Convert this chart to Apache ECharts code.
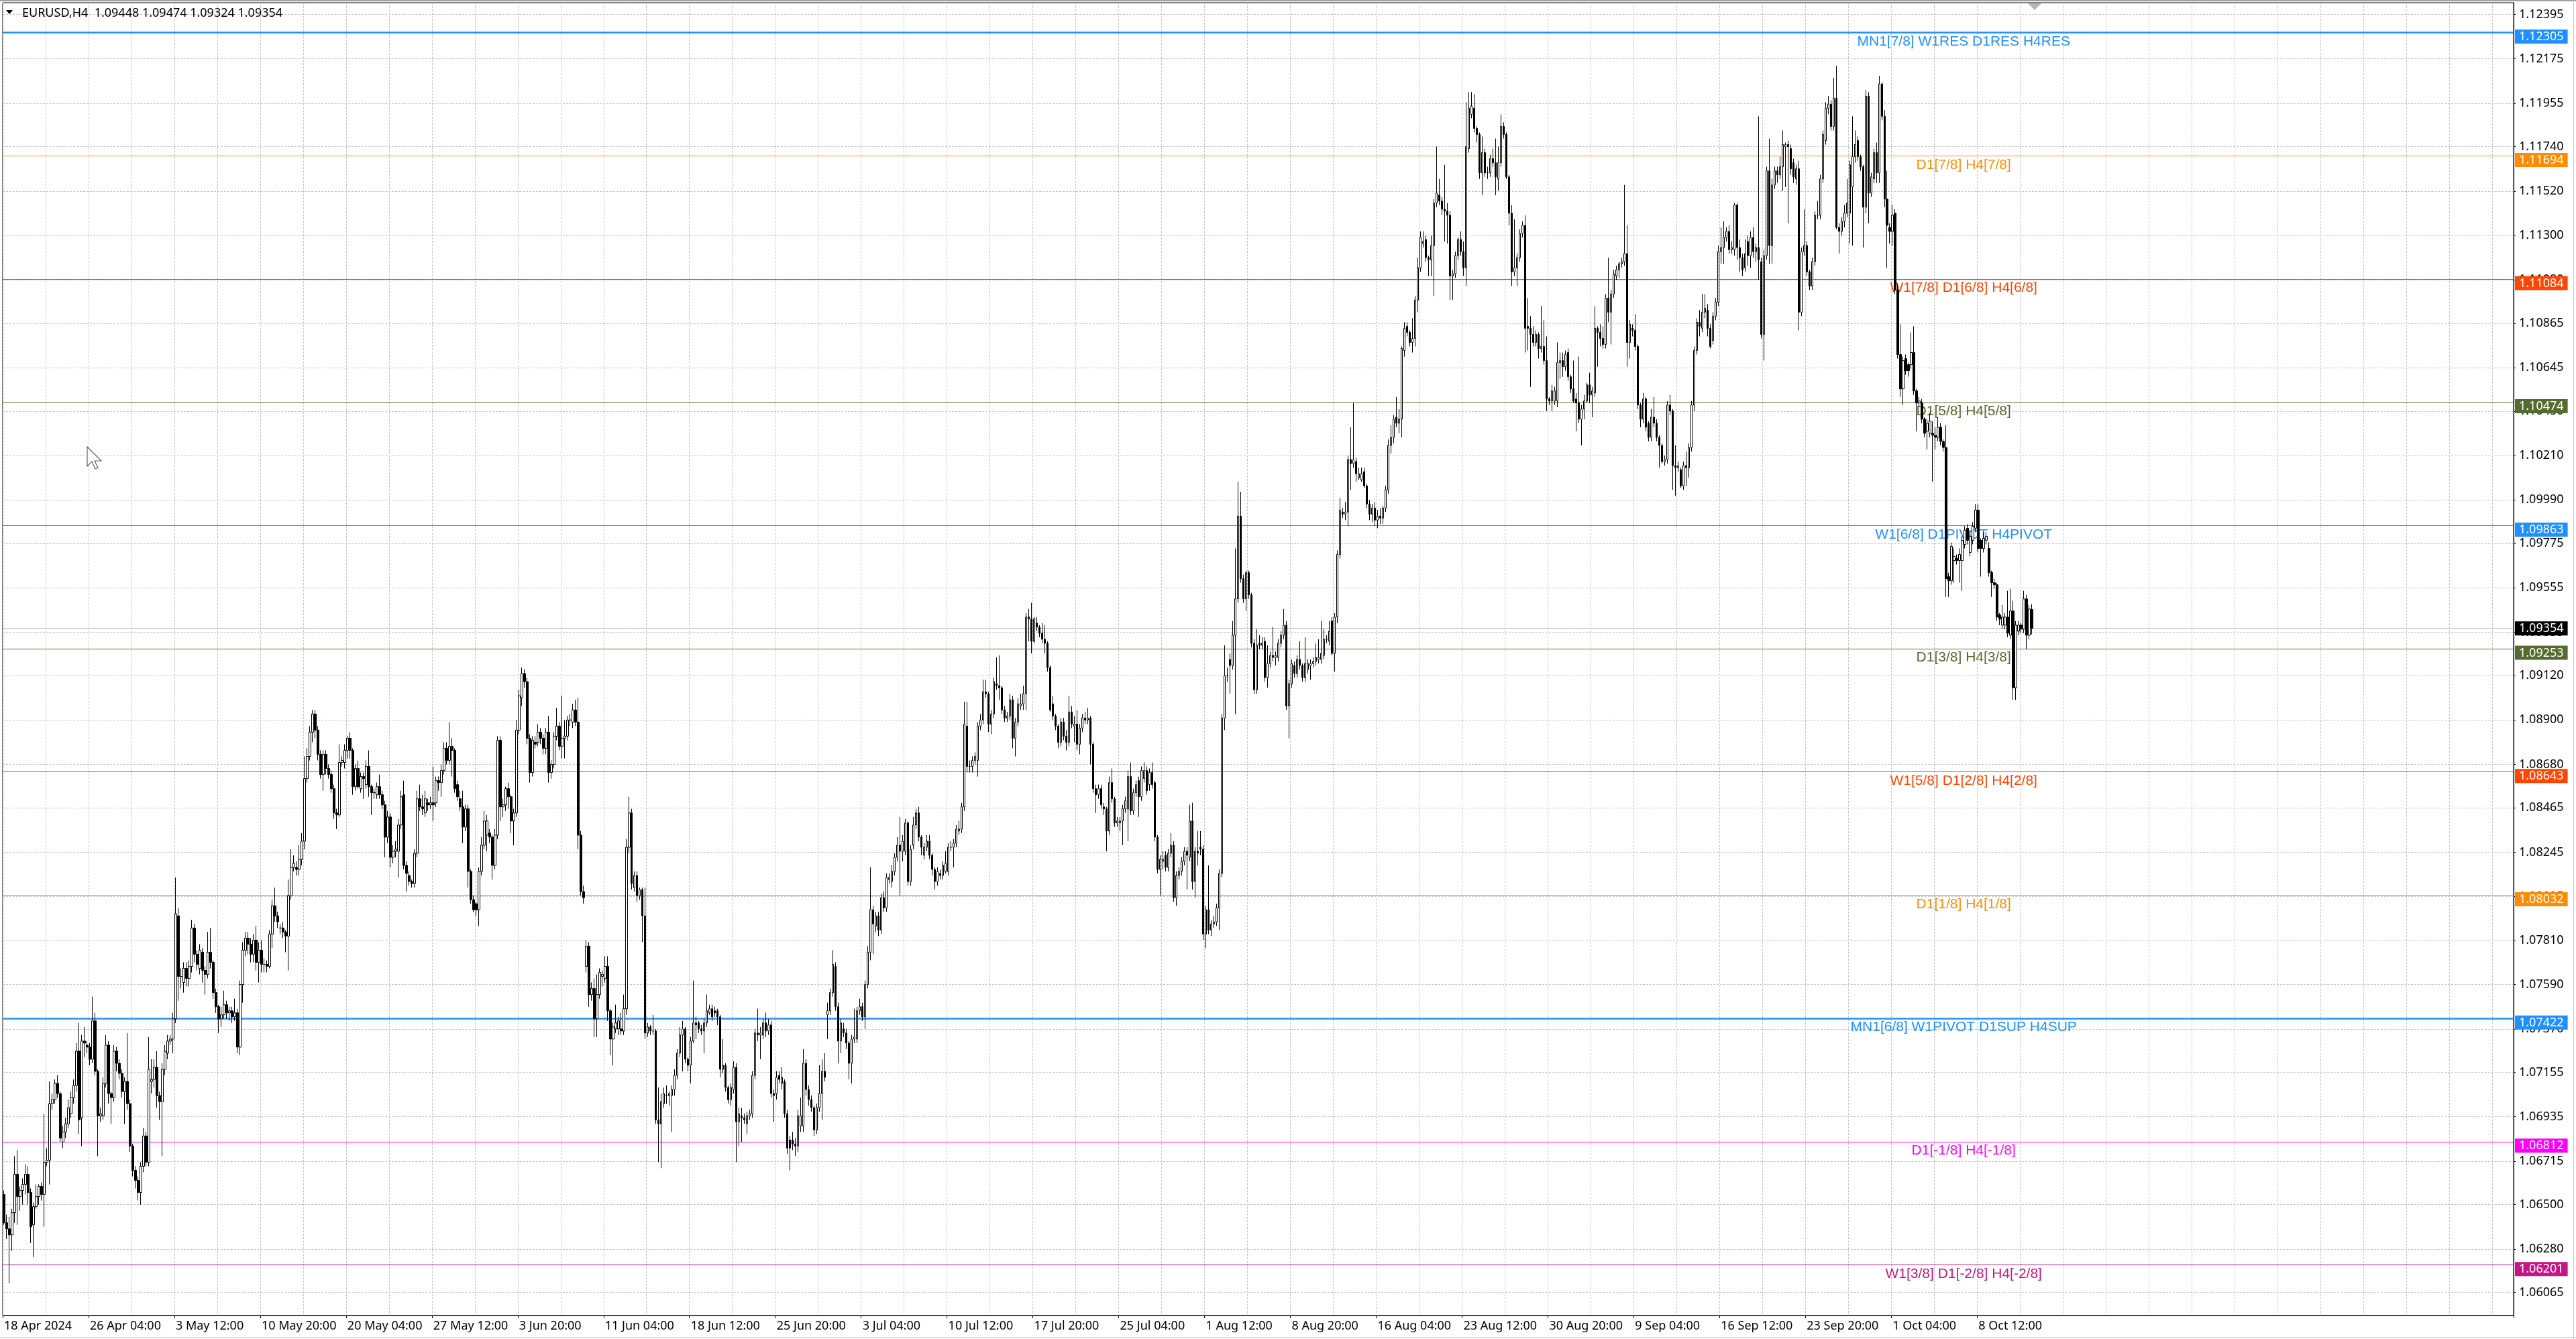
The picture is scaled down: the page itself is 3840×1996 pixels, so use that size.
<!DOCTYPE html>
<html>
<head>
<meta charset="utf-8">
<script src="https://cdn.jsdelivr.net/npm/echarts@6/dist/echarts.min.js"></script>
<style>
html,body{margin:0;padding:0;background:#fff;}
#chart{width:3840px;height:1996px;}
</style>
</head>
<body>
<div id="chart"></div>
<script>
// ---------- header ----------
const headerText = 'EURUSD,H4  1.09448 1.09474 1.09324 1.09354';
const lastPrice = 1.09354;

// ---------- axis ticks ----------
const yTicks = [1.12395,1.12175,1.11955,1.11740,1.11520,1.11300,1.11080,1.10865,1.10645,1.10430,
  1.10210,1.09990,1.09775,1.09555,1.09335,1.09120,1.08900,1.08680,1.08465,1.08245,
  1.08025,1.07810,1.07590,1.07370,1.07155,1.06935,1.06715,1.06500,1.06280,1.06065];
const xLabels = ['18 Apr 2024','26 Apr 04:00','3 May 12:00','10 May 20:00','20 May 04:00','27 May 12:00',
  '3 Jun 20:00','11 Jun 04:00','18 Jun 12:00','25 Jun 20:00','3 Jul 04:00','10 Jul 12:00',
  '17 Jul 20:00','25 Jul 04:00','1 Aug 12:00','8 Aug 20:00','16 Aug 04:00','23 Aug 12:00',
  '30 Aug 20:00','9 Sep 04:00','16 Sep 12:00','23 Sep 20:00','1 Oct 04:00','8 Oct 12:00'];

// ---------- Murrey levels ----------
const levelValues = [1.12305,1.11694,1.11084,1.10474,1.09863,1.09253,1.08643,1.08032,1.07422,1.06812,1.06201];
const levelNames = ['MN1[7/8] W1RES D1RES H4RES','D1[7/8] H4[7/8]','W1[7/8] D1[6/8] H4[6/8]','D1[5/8] H4[5/8]',
  'W1[6/8] D1PIVOT H4PIVOT','D1[3/8] H4[3/8]','W1[5/8] D1[2/8] H4[2/8]','D1[1/8] H4[1/8]',
  'MN1[6/8] W1PIVOT D1SUP H4SUP','D1[-1/8] H4[-1/8]','W1[3/8] D1[-2/8] H4[-2/8]'];
const levelColors = ['#1E90FF','#FF8C00','#FF4500','#556B2F','#1E90FF','#556B2F','#FF4500','#FF8C00','#1E90FF','#FF00FF','#C71585'];
const levelWidths = [2.5,1.2,1.2,1.2,1.2,1.2,1.2,1.2,2.5,1.2,1.2];

// ---------- H4 candles, [open, high, low, close] in pips above 1.0000 ----------
const barsPart1 = [
[655,657,640,641],[641,645,633,638],[638,644,611,635],[635,648,627,646],[646,674,641,665],[665,677,640,654],
[654,659,647,657],[657,663,650,660],[660,670,655,665],[665,669,650,656],[656,658,631,639],[640,651,624,649],
[649,660,648,654],[654,660,650,659],[659,661,652,655],[655,695,639,671],[671,678,669,672],[672,711,660,700],
[700,705,697,702],[702,712,700,710],[710,714,703,705],[705,706,681,683],[681,689,678,686],[686,693,683,690],
[690,702,688,698],[695,706,693,703],[703,712,700,709],[709,730,706,726],[726,740,685,692],[693,734,679,731],
[731,738,723,730],[729,731,725,728],[728,730,719,722],[722,753,720,741],[741,745,714,716],[716,717,674,694],
[694,698,691,695],[694,713,692,710],[710,734,708,729],[729,731,700,705],[705,706,690,703],[703,729,701,726],
[726,728,716,720],[720,722,712,715],[715,717,703,706],[706,713,690,711],[711,735,697,700],[700,702,676,679],
[679,680,664,667],[667,669,658,662],[662,664,652,656],[656,671,650,669],[669,688,666,684],[684,686,669,671],
[671,733,669,717],[711,722,705,712],[712,722,708,718],[718,726,698,704],[704,706,692,701],[701,720,674,717],
[717,729,714,726],[725,734,722,731],[731,734,729,732],[732,745,725,742],[742,812,740,794],[793,797,751,763],
[763,767,757,763],[760,770,755,767],[767,770,758,762],[762,771,758,768],[768,791,765,787],[787,789,770,774],
[774,776,766,769],[767,779,764,776],[775,777,760,766],[766,768,754,764],[764,785,762,775],[775,787,767,770],
[770,771,752,755],[755,757,745,748],[748,749,735,742],[742,748,738,744],[744,756,742,749],[749,751,742,745],
[745,748,741,746],[746,748,740,743],[743,752,741,745],[745,747,725,728],[728,761,724,759],[759,780,750,776],
[776,785,773,782],[782,785,774,779],[779,782,770,774],[774,784,770,781],[781,788,766,770],[770,780,760,776],
[776,781,765,769],[769,772,765,769],[769,771,765,768],[768,786,767,784],[784,801,777,798],[798,807,790,793],
[793,795,787,790],[787,789,784,787],[787,790,782,785],[785,786,775,783],[783,811,766,803],[803,826,801,817],
[817,823,815,819],[817,820,813,816],[816,828,813,821],[821,834,818,830],[830,872,826,861],[861,876,859,872],
[872,887,870,884],[884,895,879,893],[893,895,881,885],[885,887,870,873],[873,875,861,863],[863,875,855,873],
[873,875,863,866],[866,868,861,863],[863,865,854,856],[856,858,841,844],[844,846,836,843],[843,878,842,869],
[869,872,867,870]
];
const barsPart2 = [
[869,878,866,875],[875,882,871,881],[881,884,871,875],[875,876,853,857],[857,868,855,866],[866,870,856,857],
[856,864,854,862],[862,864,851,861],[858,870,856,867],[867,875,852,857],[857,858,843,854],[854,856,851,854],
[853,859,851,857],[857,863,851,853],[853,855,846,848],[848,850,822,832],[832,845,829,842],[842,844,817,822],
[822,828,819,825],[825,830,822,826],[825,841,812,838],[838,855,836,852],[853,860,816,818],[818,820,805,814],
[813,815,808,810],[810,811,807,809],[809,826,807,824],[824,855,822,851],[851,858,845,847],[847,853,843,846],
[844,855,842,851],[849,851,845,848],[848,852,846,849],[849,867,840,848],[849,862,847,860],[860,862,855,859],
[859,868,852,865],[865,879,863,876],[876,879,868,870],[870,889,868,877],[877,881,862,875],[875,876,854,856],
[858,860,850,852],[851,855,845,847],[847,855,829,837],[837,848,835,846],[846,848,807,815],[815,816,799,801],
[801,803,795,796],[799,800,793,796],[796,817,788,815],[815,832,813,828],[828,845,826,840],[833,843,825,840],
[834,836,829,832],[832,833,811,818],[818,836,816,833],[833,882,831,880],[880,882,840,847],[847,851,842,848],
[848,857,845,856],[856,859,846,852],[852,853,834,840],[840,846,828,844],[844,890,842,885],[885,905,883,902],
[901,916,897,913],[913,915,906,909],[909,911,878,881],[881,883,859,864],[864,882,862,880],[879,882,876,878],
[879,888,877,884],[884,886,878,881],[881,883,873,876],[876,886,873,884],[884,892,859,864],[864,870,861,868],
[868,884,866,882],[882,896,880,887],[887,889,875,877],[877,902,871,881],[881,890,871,882],[882,892,880,890],
[890,893,887,890],[889,898,886,895],[895,900,887,889],[889,901,826,833],[833,835,803,805],[805,808,799,802],
[768,781,765,778],[778,780,748,754],[754,760,751,757],[757,762,733,742],[742,764,733,754],[754,767,752,765],
[763,766,758,764],[762,773,760,768],[768,773,741,746],[746,747,724,732],[732,740,719,738],[737,749,735,740],
[737,743,734,741],[737,745,734,736],[736,754,734,747],[747,831,744,827],[827,852,824,844],[844,846,806,809],
[807,815,805,813],[813,815,800,803],[803,807,801,806],[806,807,780,793],[793,807,732,735],[735,740,733,738],
[738,739,734,736],[736,744,734,736],[736,737,690,692],[692,708,671,690],[690,705,668,701],[700,708,698,705],
[704,709,700,704],[704,706,699,705],[704,709,686,707],[707,717,704,714],[714,727,712,725],[725,738,723,734]
];
const barsPart3 = [
[734,741,716,737],[737,738,720,722],[722,723,716,719],[719,733,710,731],[731,761,730,740],[740,743,732,739],
[740,741,735,737],[737,739,734,736],[736,742,725,740],[740,754,738,746],[745,749,744,747],[747,749,741,743],
[746,748,743,745],[746,747,739,743],[743,744,713,717],[717,732,715,719],[719,720,706,708],[708,709,700,702],
[702,710,699,708],[707,721,705,718],[718,720,671,691],[691,698,679,695],[694,698,681,693],[693,695,690,692],
[690,696,685,694],[694,697,692,695],[695,716,693,714],[714,737,712,735],[735,747,731,734],[734,738,722,735],
[734,742,732,740],[740,745,733,736],[736,742,734,739],[739,741,703,705],[705,707,691,704],[705,716,702,713],
[714,716,710,712],[710,718,707,713],[711,712,693,695],[695,697,675,678],[682,684,667,678],[682,686,677,680],
[680,683,674,679],[679,697,676,694],[689,703,686,694],[689,727,686,720],[720,722,704,707],[707,709,699,702],
[702,704,696,698],[698,699,684,687],[687,700,685,698],[698,719,696,705],[705,722,692,716],[716,725,711,713],
[744,750,732,746],[746,757,744,755],[755,776,753,769],[768,770,746,748],[748,750,720,731],[731,742,725,740],
[737,740,733,735],[735,737,727,730],[730,731,712,720],[720,734,710,732],[732,747,730,733],[732,748,730,746],
[746,752,744,748],[748,750,741,743],[743,761,737,759],[759,778,757,775],[775,817,771,796],[796,798,774,789],
[788,795,785,793],[793,795,783,786],[786,804,784,802],[802,805,795,797],[797,814,795,812],[811,814,809,812],
[810,818,807,815],[815,824,813,822],[822,832,820,828],[828,842,803,825],[825,833,820,830],[825,841,823,839],
[839,840,808,810],[810,828,808,826],[828,842,826,838],[838,846,836,844],[844,847,830,832],[832,833,823,827],
[823,829,821,827],[827,833,825,830],[830,833,821,823],[823,824,813,816],[816,817,806,810],[810,817,808,815],
[814,816,811,813],[813,820,811,818],[815,825,814,819],[815,829,813,827],[827,830,825,827],[827,831,817,829],
[829,838,827,836],[835,840,833,836],[836,849,834,847],[847,899,845,888],[887,899,864,867],[867,870,864,867],
[867,872,864,870],[870,874,868,872],[870,889,862,887],[887,893,885,890],[890,910,888,904],[904,910,901,903],
[903,904,884,888],[888,895,883,893],[893,911,891,909],[908,921,905,907],[907,922,900,906],[906,907,893,895],
[895,897,889,891],[891,894,889,892],[892,903,890,900],[900,902,876,881],[881,891,872,889],[889,901,887,898]
];
const barsPart4 = [
[897,903,895,898],[898,907,895,903],[903,943,895,941],[941,945,929,940],[940,948,923,929],[929,941,928,940],
[938,941,934,936],[936,937,931,933],[933,938,928,930],[930,937,923,928],[928,929,914,916],[916,917,894,895],
[898,902,890,892],[892,893,885,887],[887,888,876,879],[879,891,877,889],[889,891,880,882],[882,885,875,879],
[879,902,877,894],[894,897,886,888],[887,892,879,888],[888,895,875,878],[878,888,873,886],[886,893,884,891],
[891,894,888,890],[890,896,888,891],[891,892,868,878],[878,879,854,856],[856,858,844,853],[853,858,851,856],
[856,858,846,848],[847,849,843,846],[846,847,825,835],[835,862,833,859],[859,866,849,851],[851,852,837,839],
[839,842,837,840],[839,842,835,840],[840,848,828,846],[846,852,844,850],[846,865,830,862],[862,869,843,845],
[845,856,843,854],[854,860,852,858],[860,862,842,852],[852,867,850,865],[861,869,859,865],[865,867,853,855],
[858,866,855,864],[864,869,856,858],[859,860,830,832],[832,833,814,816],[816,823,803,821],[820,825,816,821],
[823,825,815,817],[817,826,815,824],[824,834,822,828],[828,830,800,802],[802,815,798,813],[813,817,811,815],
[815,822,813,820],[820,827,818,825],[825,827,806,823],[822,848,820,840],[840,849,806,810],[810,827,802,825],
[825,835,818,824],[827,835,823,826],[826,828,781,784],[784,798,777,796],[796,818,784,786],[786,791,783,789],
[789,793,787,790],[790,799,788,797],[797,816,786,814],[814,893,812,891],[891,927,885,912],[912,916,909,912],
[920,923,903,917],[917,939,915,932],[932,975,893,950],[950,1008,948,991],[991,1003,958,960],[960,962,948,950],
[950,964,944,963],[963,964,950,952],[952,953,926,928],[928,930,903,905],[905,935,903,927],[928,932,925,927],
[927,931,925,928],[929,931,909,911],[911,927,906,918],[918,924,916,922],[922,936,919,921],[921,924,917,922],
[921,930,919,928],[928,934,926,932],[932,945,930,937],[937,939,895,897],[897,910,881,908],[908,920,906,918],
[917,919,911,913],[913,922,911,920],[920,929,915,917],[917,918,909,911],[911,931,909,918],[915,920,913,918],
[917,920,910,918],[918,921,916,919],[919,928,917,921],[920,930,918,921],[920,939,918,923],[922,935,920,930],
[930,932,928,930],[929,939,927,934],[939,941,922,923],[923,943,914,941],[941,974,938,972],[972,1000,970,994],
[993,995,990,992],[992,998,989,993],[993,1021,986,1019],[1019,1035,1004,1017],[1017,1047,1015,1019],[1018,1020,1008,1012]
];
const barsPart5 = [
[1010,1015,1009,1012],[1009,1015,1008,1012],[1013,1015,1005,1006],[1006,1007,995,997],[997,999,989,992],[992,997,988,995],
[995,998,986,989],[989,994,985,991],[991,995,987,990],[990,996,987,995],[995,1006,993,1004],[1004,1029,1002,1026],
[1026,1036,1022,1030],[1030,1041,1027,1039],[1040,1050,1035,1037],[1037,1044,1032,1039],[1039,1075,1030,1074],[1073,1087,1070,1084],
[1085,1087,1080,1082],[1082,1083,1075,1077],[1077,1089,1072,1079],[1079,1100,1075,1098],[1098,1119,1092,1114],[1114,1132,1112,1129],
[1126,1132,1124,1127],[1128,1130,1117,1119],[1119,1120,1110,1118],[1118,1130,1110,1125],[1125,1148,1100,1146],[1146,1174,1144,1151],
[1150,1158,1145,1147],[1147,1149,1140,1143],[1143,1165,1127,1142],[1142,1146,1126,1140],[1140,1142,1098,1110],[1110,1113,1098,1111],
[1111,1122,1109,1120],[1120,1129,1118,1128],[1128,1132,1120,1122],[1122,1127,1110,1114],[1114,1196,1105,1174],[1173,1201,1171,1193],
[1190,1201,1188,1194],[1193,1200,1181,1183],[1183,1184,1176,1180],[1180,1181,1158,1161],[1161,1179,1150,1171],[1171,1173,1159,1161],
[1161,1164,1158,1161],[1161,1170,1159,1168],[1168,1173,1164,1166],[1166,1178,1150,1159],[1158,1174,1152,1166],[1166,1190,1164,1184],
[1184,1186,1178,1180],[1180,1181,1158,1159],[1159,1160,1135,1141],[1141,1145,1105,1112],[1112,1138,1110,1114],[1114,1121,1105,1119],
[1119,1133,1117,1131],[1131,1137,1129,1135],[1135,1140,1072,1084],[1085,1099,1073,1084],[1084,1090,1055,1081],[1081,1085,1075,1077],
[1077,1083,1075,1081],[1081,1082,1069,1074],[1074,1095,1072,1075],[1075,1088,1066,1068],[1068,1080,1043,1049],[1049,1050,1046,1048],
[1048,1056,1043,1053],[1048,1055,1046,1053],[1048,1077,1045,1067],[1067,1072,1059,1068],[1068,1072,1060,1065],[1065,1073,1063,1071],
[1072,1074,1058,1060],[1060,1061,1052,1054],[1054,1068,1047,1048],[1049,1052,1033,1047],[1047,1070,1037,1039],[1039,1046,1026,1044],
[1044,1051,1039,1048],[1048,1057,1047,1056],[1056,1062,1047,1051],[1051,1055,1040,1053],[1052,1095,1050,1084],[1084,1085,1065,1082],
[1082,1086,1075,1079],[1079,1085,1074,1076],[1076,1101,1074,1099],[1099,1119,1087,1092],[1092,1103,1076,1101],[1101,1113,1099,1111],
[1110,1115,1108,1113],[1113,1117,1109,1116],[1116,1119,1114,1117],[1117,1155,1115,1121],[1121,1135,1065,1077],[1077,1088,1069,1086],
[1084,1086,1080,1083],[1083,1091,1073,1075],[1075,1076,1044,1046],[1046,1047,1035,1039],[1039,1052,1037,1049],[1049,1050,1033,1035],
[1037,1038,1028,1030],[1030,1044,1028,1040],[1040,1050,1035,1037],[1037,1039,1028,1030],[1030,1031,1015,1026],[1026,1027,1017,1018],
[1018,1021,1016,1019],[1019,1048,1017,1046],[1046,1051,1041,1043],[1043,1044,1004,1016],[1016,1026,1001,1015],[1015,1018,1013,1016],
[1014,1015,1005,1006],[1006,1018,1004,1016],[1016,1023,1006,1015],[1015,1027,1010,1025],[1025,1048,1023,1046],[1046,1075,1043,1073],
[1073,1089,1071,1087]
];
const barsPart6 = [
[1087,1093,1080,1085],[1084,1101,1082,1092],[1092,1101,1089,1094],[1093,1096,1080,1084],[1084,1086,1074,1075],[1078,1092,1076,1090],
[1090,1099,1088,1097],[1097,1125,1095,1122],[1122,1134,1116,1124],[1124,1137,1116,1129],[1129,1134,1127,1132],[1132,1135,1121,1123],
[1123,1127,1121,1124],[1123,1146,1120,1145],[1145,1146,1118,1124],[1124,1128,1112,1119],[1119,1121,1110,1113],[1114,1128,1112,1121],
[1127,1130,1115,1120],[1120,1132,1114,1129],[1129,1134,1119,1122],[1122,1126,1117,1124],[1124,1189,1108,1118],[1117,1119,1079,1081],
[1081,1123,1068,1120],[1120,1164,1118,1162],[1162,1178,1116,1125],[1125,1158,1116,1155],[1155,1164,1153,1162],[1162,1164,1156,1160],
[1160,1169,1158,1164],[1164,1182,1152,1175],[1174,1176,1154,1175],[1175,1177,1136,1174],[1173,1175,1160,1163],[1166,1168,1156,1159],
[1158,1165,1155,1163],[1163,1167,1083,1092],[1092,1124,1090,1122],[1122,1143,1120,1125],[1125,1127,1110,1112],[1112,1113,1103,1105],
[1105,1119,1103,1117],[1117,1142,1115,1140],[1140,1147,1138,1140],[1140,1160,1138,1158],[1158,1182,1156,1180],[1177,1196,1175,1193],
[1193,1199,1190,1195],[1195,1197,1182,1184],[1184,1208,1182,1198],[1198,1214,1133,1134],[1134,1136,1121,1132],[1132,1139,1130,1137],
[1137,1145,1134,1141],[1141,1158,1139,1146],[1141,1167,1126,1165],[1154,1189,1125,1169],[1169,1182,1166,1175],[1177,1179,1167,1169],
[1169,1170,1162,1164],[1164,1165,1124,1144],[1144,1202,1141,1199],[1199,1201,1136,1151],[1151,1161,1149,1159],[1158,1173,1156,1171],
[1171,1176,1156,1161],[1161,1209,1156,1205],[1205,1206,1187,1189],[1189,1192,1144,1148],[1148,1162,1114,1135],[1134,1136,1126,1132],
[1132,1145,1125,1140],[1141,1143,1101,1103],[1103,1106,1069,1071],[1071,1086,1050,1054],[1054,1070,1046,1068],[1069,1071,1061,1063],
[1066,1067,1060,1063],[1066,1082,1064,1072],[1072,1085,1051,1053],[1053,1054,1033,1047],[1047,1050,1045,1048],[1047,1049,1037,1039],
[1039,1040,1030,1032],[1033,1039,1024,1037],[1032,1042,1030,1038],[1032,1038,1008,1031],[1031,1035,1024,1030],[1030,1040,1028,1035],
[1035,1037,1026,1028],[1028,1029,1023,1025],[1025,1036,951,960],[961,963,951,959],[959,978,957,976],[969,975,958,971],
[970,972,967,969],[969,975,958,972],[969,981,954,979],[977,986,975,984],[985,987,977,979],[973,984,971,981],
[979,988,977,986],[985,997,983,994],[994,997,973,975],[979,980,961,975],[975,983,973,980],[979,983,977,981],
[975,978,961,963],[963,964,951,958],[958,960,955,957],[957,958,939,941],[942,943,937,940],[937,947,935,941],
[937,943,935,941],[941,954,931,933],[932,955,930,944],[944,949,900,906],[906,939,900,937],[934,939,932,937],
[937,938,933,935],[935,954,933,950],[950,952,925,932],[932,947,930,945],[944.8,947.4,932.4,935.4]
];

// ---------- build ----------
const bars = [].concat(barsPart1, barsPart2, barsPart3, barsPart4, barsPart5, barsPart6);
const toPrice = p => +(1 + p / 10000).toFixed(5);
const candleData = bars.map(r => [toPrice(r[0]), toPrice(r[3]), toPrice(r[2]), toPrice(r[1])]);

const SLOT_COUNT = 936; // visible bar slots incl. right shift
const categories = [];
for (let i = 0; i < SLOT_COUNT; i++) categories.push(String(i));
const LABEL_EVERY = 32;
const lastLabelIndex = (xLabels.length - 1) * LABEL_EVERY;

const AXIS_FONT = 'Noto Sans';
const LEVEL_FONT = 'Liberation Sans';
const GRID_COLOR = '#c4c4c4';

const markData = [];
levelValues.forEach((v, k) => {
  markData.push({
    yAxis: v,
    lineStyle: { color: levelColors[k], width: levelWidths[k], type: 'solid' },
    label: {
      show: true, position: 'end', distance: 2,
      formatter: '{s| }\n{t|' + v.toFixed(5) + '}',
      rich: {
        s: { height: 12, fontSize: 1, lineHeight: 12 },
        t: { backgroundColor: levelColors[k], color: '#ffffff', fontFamily: AXIS_FONT, fontSize: 18,
             lineHeight: 19, padding: [2, 6, 1, 6] }
      }
    }
  });
  markData.push([
    { coord: ['700', v], lineStyle: { color: 'rgba(0,0,0,0)', width: 0 },
      label: { show: true, position: 'insideMiddleBottom', distance: 3, formatter: levelNames[k],
               color: levelColors[k], fontFamily: LEVEL_FONT, fontSize: 21 } },
    { coord: ['761', v] }
  ]);
});
markData.push({
  yAxis: lastPrice,
  lineStyle: { color: '#b8b8b8', width: 1, type: 'solid' },
  label: {
    show: true, position: 'end', distance: 2,
    formatter: '{p|' + lastPrice.toFixed(5) + '}',
    rich: { p: { backgroundColor: '#000000', color: '#ffffff', fontFamily: AXIS_FONT, fontSize: 18,
                 lineHeight: 19, padding: [2, 6, 1, 6] } }
  }
});

const chart = echarts.init(document.getElementById('chart'), null, { renderer: 'canvas' });
chart.setOption({
  animation: false,
  backgroundColor: '#ffffff',
  grid: { left: 4, right: 93, top: 4, bottom: 35, show: true, borderColor: '#000', borderWidth: 1,
          backgroundColor: '#ffffff', containLabel: false, outerBoundsMode: 'none' },
  xAxis: {
    type: 'category', data: categories, boundaryGap: true,
    axisLine: { show: true, lineStyle: { color: '#000', width: 1 } },
    axisTick: { show: true, length: 4, lineStyle: { color: '#000' },
                interval: (i) => i % LABEL_EVERY === 0 && i <= lastLabelIndex },
    axisLabel: { show: true, align: 'left', margin: 7, color: '#000', fontFamily: AXIS_FONT, fontSize: 18,
                 interval: (i) => i % LABEL_EVERY === 0 && i <= lastLabelIndex,
                 formatter: (val, idx) => xLabels[idx / LABEL_EVERY] || '' },
    splitLine: { show: true, interval: 15, lineStyle: { color: GRID_COLOR, type: [3, 2], width: 1 } }
  },
  yAxis: {
    type: 'value', position: 'right', min: 1.059507, max: 1.124528, scale: true,
    axisLine: { show: true, lineStyle: { color: '#000', width: 1 } },
    axisTick: { show: true, length: 3, customValues: yTicks, lineStyle: { color: '#000' } },
    axisLabel: { show: true, customValues: yTicks, margin: 8, color: '#000', fontFamily: AXIS_FONT, fontSize: 18,
                 formatter: (v) => Number(v).toFixed(5) },
    splitLine: { show: true, lineStyle: { color: GRID_COLOR, type: [3, 2], width: 1 } }
  },
  series: [{
    type: 'candlestick',
    data: candleData,
    large: false,
    barWidth: 3,
    z: 3,
    itemStyle: { color: '#ffffff', color0: '#000000', borderColor: '#000000', borderColor0: '#000000',
                 borderColorDoji: '#000000', borderWidth: 1 },
    markLine: {
      silent: true, animation: false, symbol: ['none', 'none'], precision: 5, z: 1,
      data: markData
    }
  }],
  graphic: [
    { type: 'rect', z: 100, shape: { x: 0, y: 0, width: 3840, height: 2 }, style: { fill: '#a0a0a0' } },
    { type: 'rect', z: 100, shape: { x: 3836, y: 0, width: 1, height: 1996 }, style: { fill: '#c8c8c8' } },
    { type: 'rect', z: 100, shape: { x: 0, y: 1993, width: 3840, height: 1 }, style: { fill: '#c8c8c8' } },
    { type: 'polygon', z: 100, shape: { points: [[3023, 5], [3043, 5], [3033, 15]] }, style: { fill: '#b4b4b4' } },
    { type: 'polygon', z: 100, shape: { points: [[9, 15], [19, 15], [14, 21]] }, style: { fill: '#000' } },
    { type: 'text', z: 100, x: 33, y: 20,
      style: { text: headerText, fill: '#000', font: '18px "Noto Sans"', textVerticalAlign: 'middle', verticalAlign: 'middle' } },
    { type: 'polygon', z: 100,
      shape: { points: [[130, 666], [130, 695], [137, 688], [142, 699], [146, 697], [141, 687], [151, 687]] },
      style: { fill: '#ffffff', stroke: '#606060', lineWidth: 1.2 } }
  ]
});
</script>
</body>
</html>
